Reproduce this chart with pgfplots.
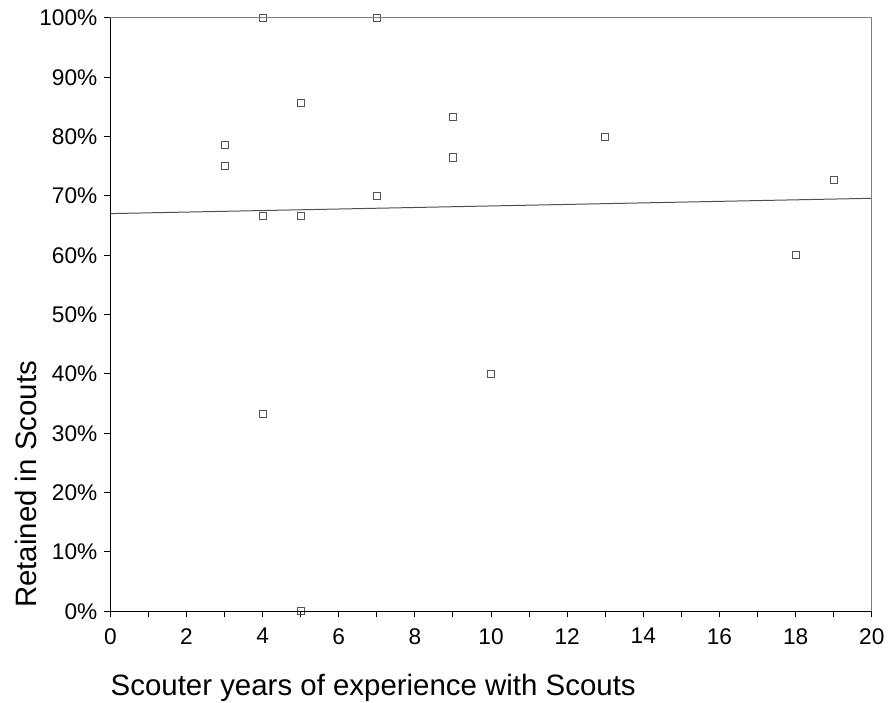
\documentclass[border=0pt]{standalone}
\usepackage{fontspec}
\setmainfont{Liberation Sans}
\usepackage{pgfplots}
\pgfplotsset{compat=1.18}

\definecolor{markgray}{HTML}{555555}
\definecolor{framegray}{HTML}{808080}
\definecolor{fitgray}{HTML}{505050}

\begin{document}
\begin{tikzpicture}
\begin{axis}[
  scale only axis,
  width=383pt, height=298.5pt,
  xmin=0, xmax=20, ymin=0, ymax=100,
  clip=false,
  axis line style={draw=none},
  xtick pos=bottom, ytick pos=left,
  tick align=outside,
  major tick length=3pt, minor tick length=3pt,
  tick style={black, line width=0.5pt},
  xtick={0,2,...,20},
  xticklabels={0,2,4,6,8,10,12,14,16,18,20},
  minor xtick={1,3,...,19},
  ytick={0,10,...,100},
  yticklabels={0\%,10\%,20\%,30\%,40\%,50\%,60\%,70\%,80\%,90\%,100\%},
  tick label style={font=\fontsize{11.4}{13}\selectfont},
  xticklabel style={yshift=-2pt},
  /pgf/number format/assume math mode=true,
]
% retention rate per scouter
\addplot[only marks, mark=square, mark size=1.8pt,
  mark options={draw=markgray, line width=0.45pt}] table {
x y
3 78.57
3 75.00
4 100.00
4 66.67
4 33.33
5 85.71
5 66.67
5 0.00
7 100.00
7 70.00
9 83.33
9 76.47
10 40.00
13 80.00
18 60.00
19 72.73
};
% least-squares trend line
\addplot[fitgray, line width=0.5pt] coordinates {(0,67.02) (20,69.60)};
\end{axis}
% frame: light top and right, dark left and bottom
\draw[framegray, line width=0.5pt] (current axis.north west) -- (current axis.north east) -- (current axis.south east);
\draw[black, line width=0.5pt] (current axis.north west) -- (current axis.south west) -- (current axis.south east);
\node[anchor=base west, inner sep=0pt, font=\fontsize{14.8}{17}\selectfont]
  at ([yshift=-42.5pt]current axis.south west) {Scouter years of experience with Scouts};
\node[rotate=90, anchor=base west, inner sep=0pt, font=\fontsize{14.8}{17}\selectfont]
  at ([xshift=-37pt, yshift=1.5pt]current axis.south west) {Retained in Scouts};
\path (current axis.south west) ++(-55.5pt,-46pt) rectangle ++(445.5pt,353.5pt);
\end{tikzpicture}
\end{document}
